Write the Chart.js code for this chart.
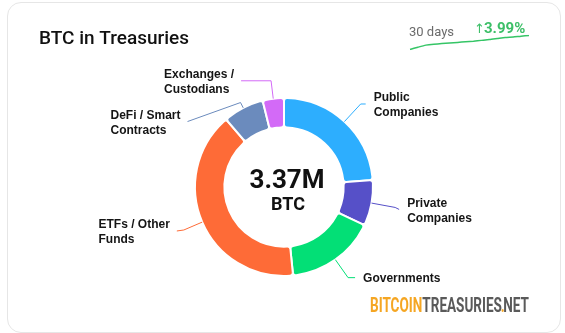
<!DOCTYPE html>
<html>
<head>
<meta charset="utf-8">
<script src="https://cdn.jsdelivr.net/npm/chart.js@4/dist/chart.umd.min.js"></script>
<style>
    html, body { margin: 0; padding: 0; background: #fff; }
    body { width: 565px; height: 333px; position: relative; overflow: hidden; }
    .card {
        position: absolute; left: 7px; top: 2px; width: 552px; height: 329px;
        border: 1px solid #e6e6e6; border-radius: 14px; background: #fff;
    }
    #holdingsChart { position: absolute; left: 0; top: 0; width: 565px; height: 333px; }
    #trendChart { position: absolute; left: 409px; top: 34px; width: 121px; height: 17px; }
</style>
</head>
<body>
<div class="card"></div>
<canvas id="holdingsChart" width="565" height="333"></canvas>
<canvas id="trendChart" width="121" height="17"></canvas>
<script>
// Holdings by entity type, millions of BTC
const holderLabels = [
    ["Public", "Companies"],
    ["Private", "Companies"],
    ["Governments"],
    ["ETFs / Other", "Funds"],
    ["DeFi / Smart", "Contracts"],
    ["Exchanges /", "Custodians"]
];
const holderValues = [0.80, 0.28, 0.55, 1.36, 0.25, 0.13];
const holderColors = ["#2daefe", "#5650c8", "#03df76", "#fe6b37", "#6b8bbd", "#d36af7"];

// Total held over the last 30 days, millions of BTC
const trendValues = [3.2407, 3.262, 3.281, 3.290, 3.295, 3.300, 3.306, 3.313,
    3.318, 3.325, 3.332, 3.342, 3.352, 3.356, 3.364, 3.370];

// leader line shape per slice: radial length, horizontal run, vertical drop
const leaders = [
    { len: 24, run: 5, drop: 0 },
    { len: 24, run: 4, drop: 2 },
    { len: 22, run: 7, drop: 0 },
    { len: 20, run: 7, drop: 1 },
    { len: 6, run: 53, drop: 19 },
    { len: 18, run: 30, drop: 0 }
];

const total = holderValues.reduce((a, b) => a + b, 0);
const change = (trendValues[trendValues.length - 1] / trendValues[0] - 1) * 100;

const labelFont = "bold 12px 'Liberation Sans', Arial, sans-serif";

const leaderLabels = {
    id: "leaderLabels",
    afterDatasetsDraw(chart) {
        const ctx = chart.ctx;
        const arcs = chart.getDatasetMeta(0).data;
        ctx.save();
        ctx.font = labelFont;
        ctx.lineWidth = 1;
        arcs.forEach((arc, i) => {
            const p = arc.getProps(["x", "y", "startAngle", "endAngle", "outerRadius"], true);
            const mid = (p.startAngle + p.endAngle) / 2;
            const cos = Math.cos(mid), sin = Math.sin(mid);
            const lay = leaders[i];
            const side = cos >= 0 ? 1 : -1;
            const x0 = p.x + cos * p.outerRadius, y0 = p.y + sin * p.outerRadius;
            const x1 = p.x + cos * (p.outerRadius + lay.len), y1 = p.y + sin * (p.outerRadius + lay.len);
            const x2 = x1 + side * lay.run, y2 = y1 + lay.drop;

            ctx.strokeStyle = holderColors[i];
            ctx.beginPath();
            ctx.moveTo(x0, y0);
            ctx.lineTo(x1, y1);
            ctx.lineTo(x2, y2);
            ctx.stroke();

            const lines = holderLabels[i];
            const widest = Math.max(...lines.map((l) => ctx.measureText(l).width));
            const left = side > 0 ? x2 + 8 : x2 - 7 - widest;
            const yc = y2 + 1.5;
            ctx.fillStyle = "#151515";
            ctx.textAlign = "left";
            ctx.textBaseline = "middle";
            lines.forEach((line, k) => {
                ctx.fillText(line, left, yc + (k - (lines.length - 1) / 2) * 15);
            });
        });
        ctx.restore();
    }
};

const cardText = {
    id: "cardText",
    afterDraw(chart) {
        const ctx = chart.ctx;
        const arc = chart.getDatasetMeta(0).data[0];
        ctx.save();
        ctx.textBaseline = "alphabetic";

        ctx.fillStyle = "#111";
        ctx.font = "500 19px Roboto, sans-serif";
        ctx.fillText("BTC in Treasuries", 39, 44);

        ctx.fillStyle = "#6b6b6b";
        ctx.font = "13px Roboto, sans-serif";
        ctx.fillText("30 days", 409, 36);

        ctx.fillStyle = "#3dbf68";
        ctx.font = "13px 'DejaVu Sans', sans-serif";
        ctx.fillText("\u2191", 474, 33);
        ctx.font = "bold 15px Roboto, sans-serif";
        ctx.fillText(change.toFixed(2) + "%", 484, 33);

        // total in the middle of the ring
        ctx.fillStyle = "#111";
        ctx.textAlign = "center";
        ctx.font = "bold 26px Roboto, sans-serif";
        ctx.fillText(total.toFixed(2) + "M", arc.x + 3, 188);
        ctx.font = "bold 18px Roboto, sans-serif";
        ctx.fillText("BTC", arc.x + 4, 210);

        // site wordmark, squeezed to a condensed look; the dot tucks in under the letters
        ctx.textAlign = "left";
        ctx.font = "bold 20px Roboto, sans-serif";
        const parts = [["BITCOIN", "#f5a623", 1], ["TREASURIES", "#5a5a5a", 1], [".", "#f5a623", 0.35], ["NET", "#5a5a5a", 1]];
        const full = parts.reduce((w, pt) => w + ctx.measureText(pt[0]).width * pt[2], 0);
        ctx.translate(370, 312);
        ctx.scale(159 / full, 1);
        let x = 0;
        parts.forEach(([txt, col, adv]) => {
            const w = ctx.measureText(txt).width;
            ctx.fillStyle = col;
            ctx.fillText(txt, adv < 1 ? x - w * (1 - adv) / 2 : x, 0);
            x += w * adv;
        });
        ctx.restore();
    }
};

new Chart(document.getElementById("holdingsChart"), {
    type: "doughnut",
    data: {
        labels: holderLabels.map((l) => l.join(" ")),
        datasets: [{
            data: holderValues,
            backgroundColor: holderColors,
            borderColor: "#ffffff",
            borderWidth: 2,
            borderRadius: 3,
            hoverOffset: 0
        }]
    },
    options: {
        responsive: false,
        animation: false,
        devicePixelRatio: 1,
        events: [],
        cutout: "67%",
        layout: { padding: { left: 194, right: 191, top: 97, bottom: 56 } },
        plugins: { legend: { display: false }, tooltip: { enabled: false } }
    },
    plugins: [leaderLabels, cardText]
});

new Chart(document.getElementById("trendChart"), {
    type: "line",
    data: {
        labels: trendValues.map((_, i) => i),
        datasets: [{
            data: trendValues,
            borderColor: "#35c566",
            borderWidth: 1.5,
            pointRadius: 0,
            tension: 0.2,
            fill: false
        }]
    },
    options: {
        responsive: false,
        animation: false,
        devicePixelRatio: 1,
        events: [],
        layout: { padding: { left: 1, right: 1, top: 1.5, bottom: 1.5 } },
        scales: {
            x: { display: false },
            y: { display: false, bounds: "data", grace: 0 }
        },
        plugins: { legend: { display: false }, tooltip: { enabled: false } }
    }
});
</script>
</body>
</html>
